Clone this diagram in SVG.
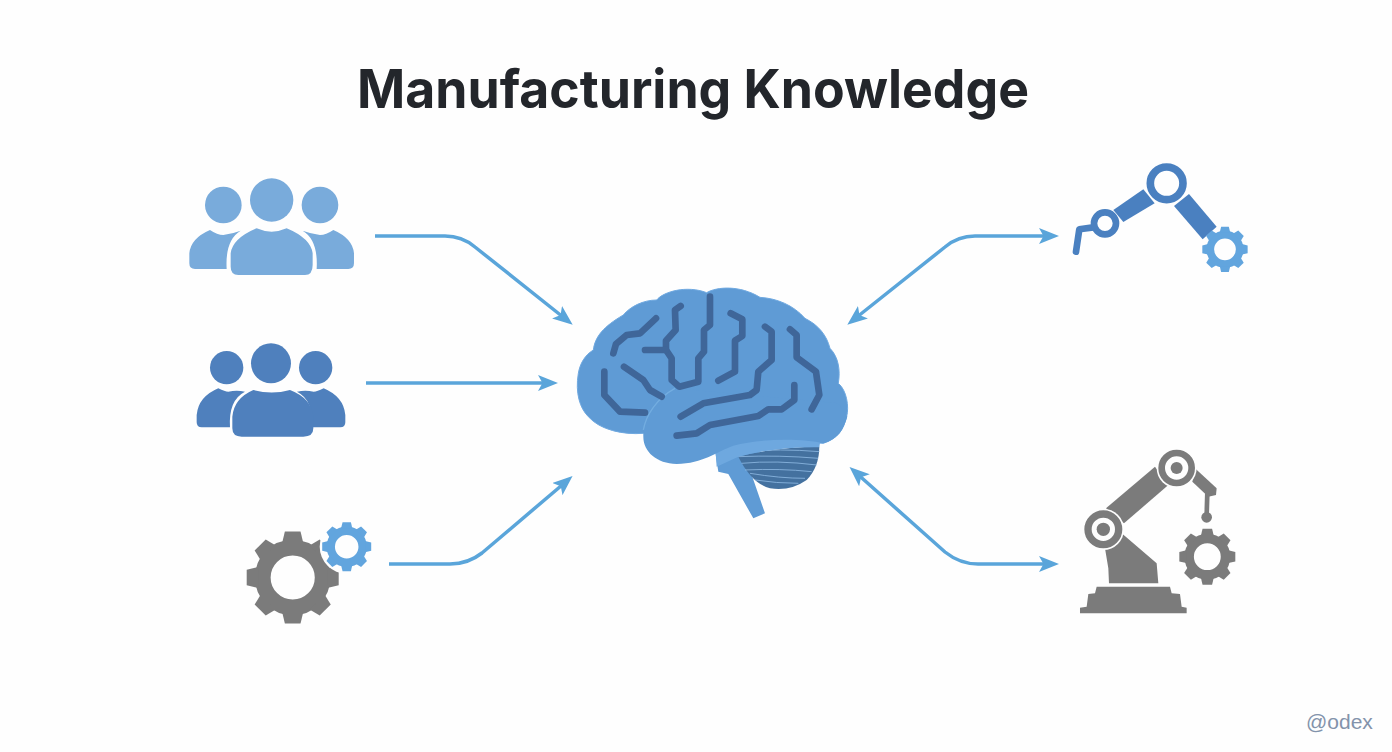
<svg xmlns="http://www.w3.org/2000/svg" xmlns:xlink="http://www.w3.org/1999/xlink" width="1392" height="752" viewBox="0 0 1392 752">
<style>
.conn{fill:none;stroke:#5aa5da;stroke-width:3.5;marker-end:url(#ah)}
.both{marker-start:url(#ah)}
.sul{fill:none;stroke:#3f6699;stroke-width:20;stroke-linejoin:round;stroke-linecap:round}
.cl{fill:none;stroke:#8db8e2;stroke-width:2.5}
.lu{fill:#79abdb}
.du{fill:#4f80bd}
.blue{fill:#4a80c0;stroke:none}
.gr{fill:#7b7b7b;stroke:none}
.title{font-family:Inter,"Liberation Sans",sans-serif;font-weight:700;font-size:53px;fill:#23262b}
.mark{font-family:"Liberation Sans",sans-serif;font-size:21px;fill:#8393ab}
</style>
<defs>
<marker id="ah" markerUnits="userSpaceOnUse" viewBox="0 0 20 16" markerWidth="20" markerHeight="16" refX="14" refY="8" orient="auto-start-reverse"><path d="M0 0L20 8L0 16L4.5 8Z" fill="#5aa5da"/></marker>
<g id="gear">
<circle r="65" fill="none" stroke="currentColor" stroke-width="34"/>
<g fill="currentColor">
<polygon id="t" points="-17,-100 17,-100 23,-75 -23,-75"/>
<use xlink:href="#t" href="#t" transform="rotate(45)"/><use xlink:href="#t" href="#t" transform="rotate(90)"/><use xlink:href="#t" href="#t" transform="rotate(135)"/><use xlink:href="#t" href="#t" transform="rotate(180)"/><use xlink:href="#t" href="#t" transform="rotate(225)"/><use xlink:href="#t" href="#t" transform="rotate(270)"/><use xlink:href="#t" href="#t" transform="rotate(315)"/>
</g>
</g>
</defs>
<rect width="1392" height="752" fill="#fefefe"/>
<text class="title" x="693" y="108" text-anchor="middle" textLength="672" lengthAdjust="spacingAndGlyphs">Manufacturing Knowledge</text>
<text class="mark" x="1306" y="729">@odex</text>

<g id="connectors">
<path class="conn" d="M375 236H445Q462 236 475 247L568 321"/>
<path class="conn" d="M366 383H552"/>
<path class="conn" d="M389 564H450Q468 564 482 553L568 480"/>
<path class="conn both" d="M852 321L945 247Q958 236 975 236H1053"/>
<path class="conn both" d="M854 471L945 552Q960 564 978 564H1053"/>
</g>

<g id="users-light" transform="translate(180 170) scale(.3333)">
<circle class="lu" cx="130" cy="105" r="55"/><circle class="lu" cx="275" cy="90" r="65"/><circle class="lu" cx="420" cy="105" r="55"/>
<path class="lu" d="M140 297H45Q28 297 28 280V250Q32 205 90 180Q112 195 130 195Q155 192 182 182Q135 210 140 297Z"/>
<path class="lu" d="M410 297H505Q522 297 522 280V250Q518 205 460 180Q438 195 420 195Q395 192 368 182Q415 210 410 297Z"/>
<path class="lu" d="M152 250Q158 205 230 175Q275 195 320 175Q392 205 398 250V285Q398 315 375 315H175Q152 315 152 290Z"/>
</g>

<g id="users-dark" transform="translate(185 335) scale(.3333)">
<circle class="du" cx="125" cy="98" r="50"/><circle class="du" cx="258" cy="85" r="60"/><circle class="du" cx="392" cy="98" r="50"/>
<path class="du" d="M135 277H50Q35 277 35 262V240Q40 185 100 160Q120 170 130 170Q155 165 180 170Q130 195 135 277Z"/>
<path class="du" d="M381 277H466Q481 277 481 262V240Q476 185 416 160Q396 170 386 170Q361 165 336 170Q386 195 381 277Z"/>
<path class="du" d="M142 245Q147 190 205 165Q260 180 315 165Q380 190 385 245V280Q385 305 355 305H170Q142 305 142 280Z"/>
</g>

<g id="gears">
<use xlink:href="#gear" href="#gear" transform="translate(292.7 577.5) scale(.46)" style="color:#7b7b7b"/>
<circle cx="346.7" cy="546.7" r="27" fill="#fefefe"/>
<use xlink:href="#gear" href="#gear" transform="translate(346.7 546.7) scale(.245)" style="color:#62a5de"/>
</g>

<g id="brain" transform="translate(560 270) scale(.3333)">
<path fill="#5f9bd5" stroke="#6fa9e0" stroke-width="3" d="M440 68C470 50 540 45 600 82C650 85 700 105 735 145C775 165 800 195 810 235C835 260 842 300 835 340C860 360 868 410 860 440C850 480 835 505 790 520L250 490C190 495 120 480 85 440C60 415 45 370 55 310C60 280 75 255 100 240C105 200 130 170 190 135C210 110 250 90 290 90C310 65 380 45 440 68Z"/>
<path fill="#5f9bd5" d="M465 540L475 605L505 612L580 745L615 730L570 600L600 540Z"/>
<path fill="#44719f" d="M535 560Q650 530 778 530Q778 590 740 630Q690 665 630 655Q575 640 535 560Z"/>
<path class="cl" d="M550 545Q660 535 778 545"/><path class="cl" d="M535 560Q660 555 775 565"/><path class="cl" d="M545 580Q650 570 770 585"/><path class="cl" d="M555 600Q660 595 755 605"/><path class="cl" d="M570 610Q660 625 735 625"/><path class="cl" d="M585 630Q650 640 715 640"/>
<path fill="#6ea8df" d="M465 520L600 480L785 490L778 532Q650 530 535 560L470 590Z"/>
<path fill="#5f9bd5" d="M250 500C248 450 280 385 345 355L835 400L862 440C850 480 835 505 790 520C730 505 600 505 520 527C470 545 430 580 350 582C290 580 250 545 250 500Z"/>
<path fill="none" stroke="#73ade0" stroke-width="4" d="M250 480C258 435 290 385 345 355"/>
<path class="sul" d="M288 145L240 190L200 195L168 222L160 250"/>
<path class="sul" d="M362 108L345 120L347 180L318 212L318 240L335 265L335 330L358 350L415 335L415 265L432 245L432 180L450 165L450 80"/>
<path class="sul" d="M255 240H318"/>
<path class="sul" d="M512 130L547 148L547 198L525 212L525 305L475 332"/>
<path class="sul" d="M615 170L635 185L635 270L595 305L590 360L570 375L430 400L362 440"/>
<path class="sul" d="M690 178L710 195L710 262L768 305L778 375L755 418"/>
<path class="sul" d="M703 345L703 390L665 418L625 418L595 438L450 465L410 490L350 497"/>
<path class="sul" d="M192 290L250 330L270 360L305 380"/>
<path class="sul" d="M133 305L133 375L180 425L255 428"/>
</g>

<g id="robot-arm-blue" transform="translate(1060 150) scale(.3333)">
<polygon class="blue" points="160,180 250,118 284,160 190,216"/>
<polygon class="blue" points="342,168 387,132 470,230 428,268"/>
<path d="M100 232L58 238L48 305" fill="none" stroke="#4a80c0" stroke-width="20" stroke-linecap="round" stroke-linejoin="round"/>
<circle cx="320" cy="100" r="49" fill="#fefefe" stroke="#4a80c0" stroke-width="23"/>
<circle cx="135" cy="220" r="33" fill="#fefefe" stroke="#4a80c0" stroke-width="20"/>
<use xlink:href="#gear" href="#gear" transform="translate(495 298) scale(.68)" style="color:#62a5de"/>
</g>

<g id="robot-arm-gray" transform="translate(1060 440) scale(.3333)">
<polygon class="gr" points="138,205 285,80 325,135 192,250"/>
<polygon class="gr" points="135,325 145,385 147,430 295,430 290,370 185,280 175,300"/>
<polygon class="gr" points="110,440 330,440 335,460 360,462 365,500 380,503 380,520 60,520 60,503 80,500 85,462 105,460"/>
<polygon class="gr" points="405,85 470,145 468,165 445,170 397,125"/>
<path d="M442 160L440 225" stroke="#7b7b7b" stroke-width="14" fill="none"/>
<circle class="gr" cx="440" cy="232" r="16"/>
<circle cx="350" cy="84" r="60" fill="#fefefe"/>
<circle cx="350" cy="84" r="45" fill="#fefefe" stroke="#7b7b7b" stroke-width="20"/><circle class="gr" cx="350" cy="84" r="18"/>
<circle cx="130" cy="268" r="62" fill="#fefefe"/>
<circle cx="130" cy="268" r="46" fill="#fefefe" stroke="#7b7b7b" stroke-width="22"/><circle class="gr" cx="130" cy="268" r="20"/>
<use xlink:href="#gear" href="#gear" transform="translate(442 350) scale(.84)" style="color:#7b7b7b"/>
</g>
</svg>
